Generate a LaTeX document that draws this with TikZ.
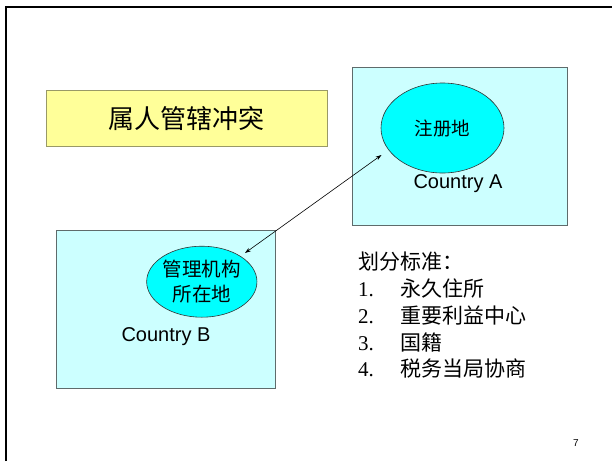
\documentclass[tikz,border=0pt]{standalone}
\usepackage{fontspec}
\setmainfont{Liberation Serif}
\newfontfamily\cjk{Noto Sans CJK SC}
\newfontfamily\arial{Liberation Sans}
\usetikzlibrary{shapes.geometric,arrows.meta}
\definecolor{lcyan}{HTML}{CCFFFF}
\definecolor{ecyan}{HTML}{00FFFF}
\definecolor{lyel}{HTML}{FFFF99}
\definecolor{olive2}{HTML}{999966}
\definecolor{boxedge}{HTML}{5F6B6B}
\tikzset{
  country/.style={draw=boxedge,fill=lcyan,line width=0.9pt},
  blob/.style={ellipse,draw=black!80,fill=ecyan,line width=0.6pt,inner sep=0pt,align=center},
  ctext/.style={font=\arial\fontsize{20}{24}\selectfont,inner sep=0pt},
  listline/.style={anchor=west,inner sep=0pt,font=\fontsize{21}{26}\selectfont},
}
\begin{document}
\begin{tikzpicture}[x=1pt,y=-1pt]
\useasboundingbox (0,0) rectangle (612,461);
\fill[white] (0,0) rectangle (612,461);
% slide frame
\draw[line width=2.2pt] (6,461) -- (6,7) -- (612,7);
% title box
\node[draw=olive2,fill=lyel,line width=1pt,minimum width=281pt,minimum height=56pt,inner sep=0pt,
  font=\cjk\fontsize{26}{30}\selectfont] (title) at (186.5,118.5) {属人管辖冲突};
% Country A
\draw[country] (352,67) rectangle (567,225);
\node[blob,minimum width=123pt,minimum height=90pt,font=\cjk\fontsize{18.5}{22}\selectfont] (ea) at (442.5,128) {注册地};
\node[ctext] (ca) at (458,184) {Country A};
% Country B
\draw[country] (56,230) rectangle (275.5,388);
\node[blob,minimum width=107pt,minimum height=71pt,font=\cjk\fontsize{19.5}{25}\selectfont] (eb) at (201.8,281.7) {管理机构\\所在地};
\node[ctext] (cb) at (166,337) {Country B};
% connector
\coordinate (pa) at (381.5,155);
\coordinate (pb) at (245,253);
\draw[line width=0.6pt,{Stealth[length=6pt,width=4pt]}-{Stealth[length=6pt,width=4pt]}] (pb) -- (pa);
% list
\node[listline] (l0) at (358,262) {\cjk 划分标准：};
\node[listline] (l1) at (358,289) {\makebox[42pt][l]{1.}\cjk 永久住所};
\node[listline] (l2) at (358,316) {\makebox[42pt][l]{2.}\cjk 重要利益中心};
\node[listline] (l3) at (358,342.5) {\makebox[42pt][l]{3.}\cjk 国籍};
\node[listline] (l4) at (358,369) {\makebox[42pt][l]{4.}\cjk 税务当局协商};
% page number
\node[font=\arial\fontsize{10}{12}\selectfont,inner sep=0pt] (pg) at (576,443) {7};
\end{tikzpicture}
\end{document}
